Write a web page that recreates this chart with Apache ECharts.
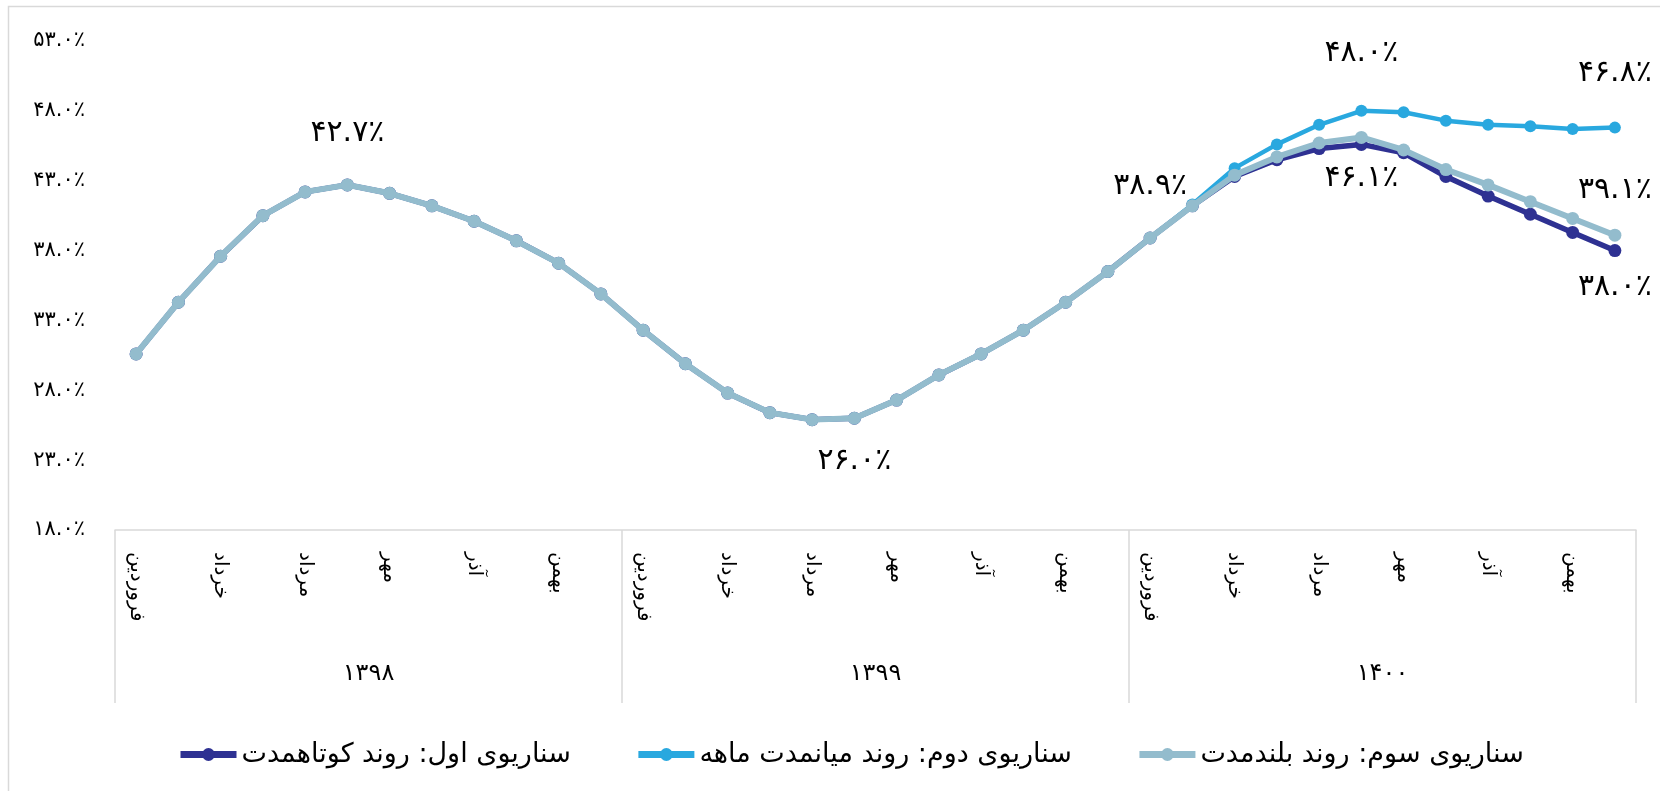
<!DOCTYPE html>
<html>
<head>
<meta charset="utf-8">
<script src="https://cdn.jsdelivr.net/npm/echarts@6/dist/echarts.min.js"></script>
<style>html,body{margin:0;padding:0;background:#fff;}#c{width:1660px;height:791px;}</style>
</head>
<body>
<div id="c"></div>
<script>
const months = ['فروردین','اردیبهشت','خرداد','تیر','مرداد','شهریور','مهر','آبان','آذر','دی','بهمن','اسفند'];
const years = ['۱۳۹۸','۱۳۹۹','۱۴۰۰'];
const seriesNames = ['سناریوی اول: روند کوتاهمدت','سناریوی دوم: روند میانمدت ماهه','سناریوی سوم: روند بلندمدت'];
const yMin = 18, yMax = 53, yStep = 5;
// common history (1398 farvardin .. 1400 farvardin)
const sharedPath = [30.6, 34.3, 37.6, 40.5, 42.2, 42.7, 42.1, 41.2, 40.1, 38.7, 37.1, 34.9,
                    32.3, 29.9, 27.8, 26.4, 25.9, 26.0, 27.3, 29.1, 30.6, 32.3, 34.3, 36.5,
                    38.9];
// scenario tails (1400 ordibehesht .. esfand)
const tailShort = [41.2, 43.3, 44.5, 45.3, 45.6, 45.0, 43.3, 41.9, 40.6, 39.3, 38.0];
const tailMid   = [41.3, 43.9, 45.6, 47.0, 48.0, 47.9, 47.3, 47.0, 46.9, 46.7, 46.8];
const tailLong  = [41.2, 43.4, 44.7, 45.7, 46.1, 45.2, 43.8, 42.7, 41.5, 40.3, 39.1];

const shortVals = sharedPath.concat(tailShort);
const midVals = sharedPath.concat(tailMid);
const longVals = sharedPath.concat(tailLong);

const monthCats = [];
years.forEach(y => months.forEach(m => monthCats.push(m)));

const FONT = 'DejaVu Sans';
const faDigits = '۰۱۲۳۴۵۶۷۸۹';
function toFa(s){ return String(s).replace(/[0-9]/g, d => faDigits[+d]); }
function pct(v){ return toFa(Number(v).toFixed(1)) + '٪'; }

// which points carry a value label: [index, position, distance]
const labelsShort = [[35, 'bottom', 15]];
const labelsMid = [[29, 'top', 37], [35, 'top', 33]];
const labelsLong = [[5, 'top', 30], [17, 'bottom', 21], [24, 'top', 30], [29, 'bottom', 19], [35, 'top', 23]];

function build(vals, lbls){
  return vals.map((v, i) => {
    const hit = lbls.find(l => l[0] === i);
    if (!hit) return v;
    return { value: v, label: { show: true, position: hit[1], distance: hit[2] } };
  });
}

const labelStyle = { show: false, fontFamily: FONT, fontSize: 30, color: '#000', formatter: p => pct(p.value) };

const chart = echarts.init(document.getElementById('c'), null, { renderer: 'canvas' });
chart.setOption({
  animation: false,
  backgroundColor: '#fff',
  graphic: [{
    type: 'rect', silent: true, z: -10,
    shape: { x: 8.5, y: 6.5, width: 1700, height: 800 },
    style: { fill: 'none', stroke: '#d9d9d9', lineWidth: 1.5 }
  }],
  grid: { left: 115, right: 24, top: 41, bottom: 261, containLabel: false },
  legend: {
    left: 172, top: 736,
    itemWidth: 56, itemHeight: 16, itemGap: 64,
    lineStyle: { width: 7 },
    textStyle: { fontFamily: FONT, fontSize: 27, color: '#000' },
    data: seriesNames
  },
  xAxis: [{
    type: 'category', data: monthCats, position: 'bottom', boundaryGap: true,
    axisLine: { show: false }, axisTick: { show: false },
    axisLabel: { interval: 1, rotate: -90, margin: 22, fontFamily: FONT, fontSize: 20, color: '#000' }
  }, {
    type: 'category', data: years, position: 'bottom', boundaryGap: true,
    axisLine: { show: true, lineStyle: { color: '#d9d9d9', width: 1.5 } },
    axisTick: { show: true, interval: 0, length: 173, lineStyle: { color: '#d9d9d9', width: 1.5 } },
    axisLabel: { interval: 0, margin: 132, fontFamily: FONT, fontSize: 24, color: '#000' }
  }],
  yAxis: {
    type: 'value', min: yMin, max: yMax, interval: yStep,
    axisLine: { show: false }, axisTick: { show: false }, splitLine: { show: false },
    axisLabel: { margin: 30, fontFamily: FONT, fontSize: 21, color: '#000', padding: [0, 0, 28, 0], formatter: v => pct(v) }
  },
  series: [{
    name: seriesNames[0], type: 'line', xAxisIndex: 0, z: 2,
    data: build(shortVals, labelsShort),
    symbol: 'circle', symbolSize: 13, showAllSymbol: true,
    lineStyle: { color: '#2e3192', width: 5.5 }, itemStyle: { color: '#2e3192' },
    label: labelStyle
  }, {
    name: seriesNames[1], type: 'line', xAxisIndex: 0, z: 3,
    data: build(midVals, labelsMid),
    symbol: 'circle', symbolSize: 12, showAllSymbol: true,
    lineStyle: { color: '#29a8df', width: 4.5 }, itemStyle: { color: '#29a8df' },
    label: labelStyle
  }, {
    name: seriesNames[2], type: 'line', xAxisIndex: 0, z: 4,
    data: build(longVals, labelsLong),
    symbol: 'circle', symbolSize: 13, showAllSymbol: true,
    lineStyle: { color: '#93bccd', width: 6 }, itemStyle: { color: '#93bccd' },
    label: labelStyle
  }]
});
</script>
</body>
</html>
